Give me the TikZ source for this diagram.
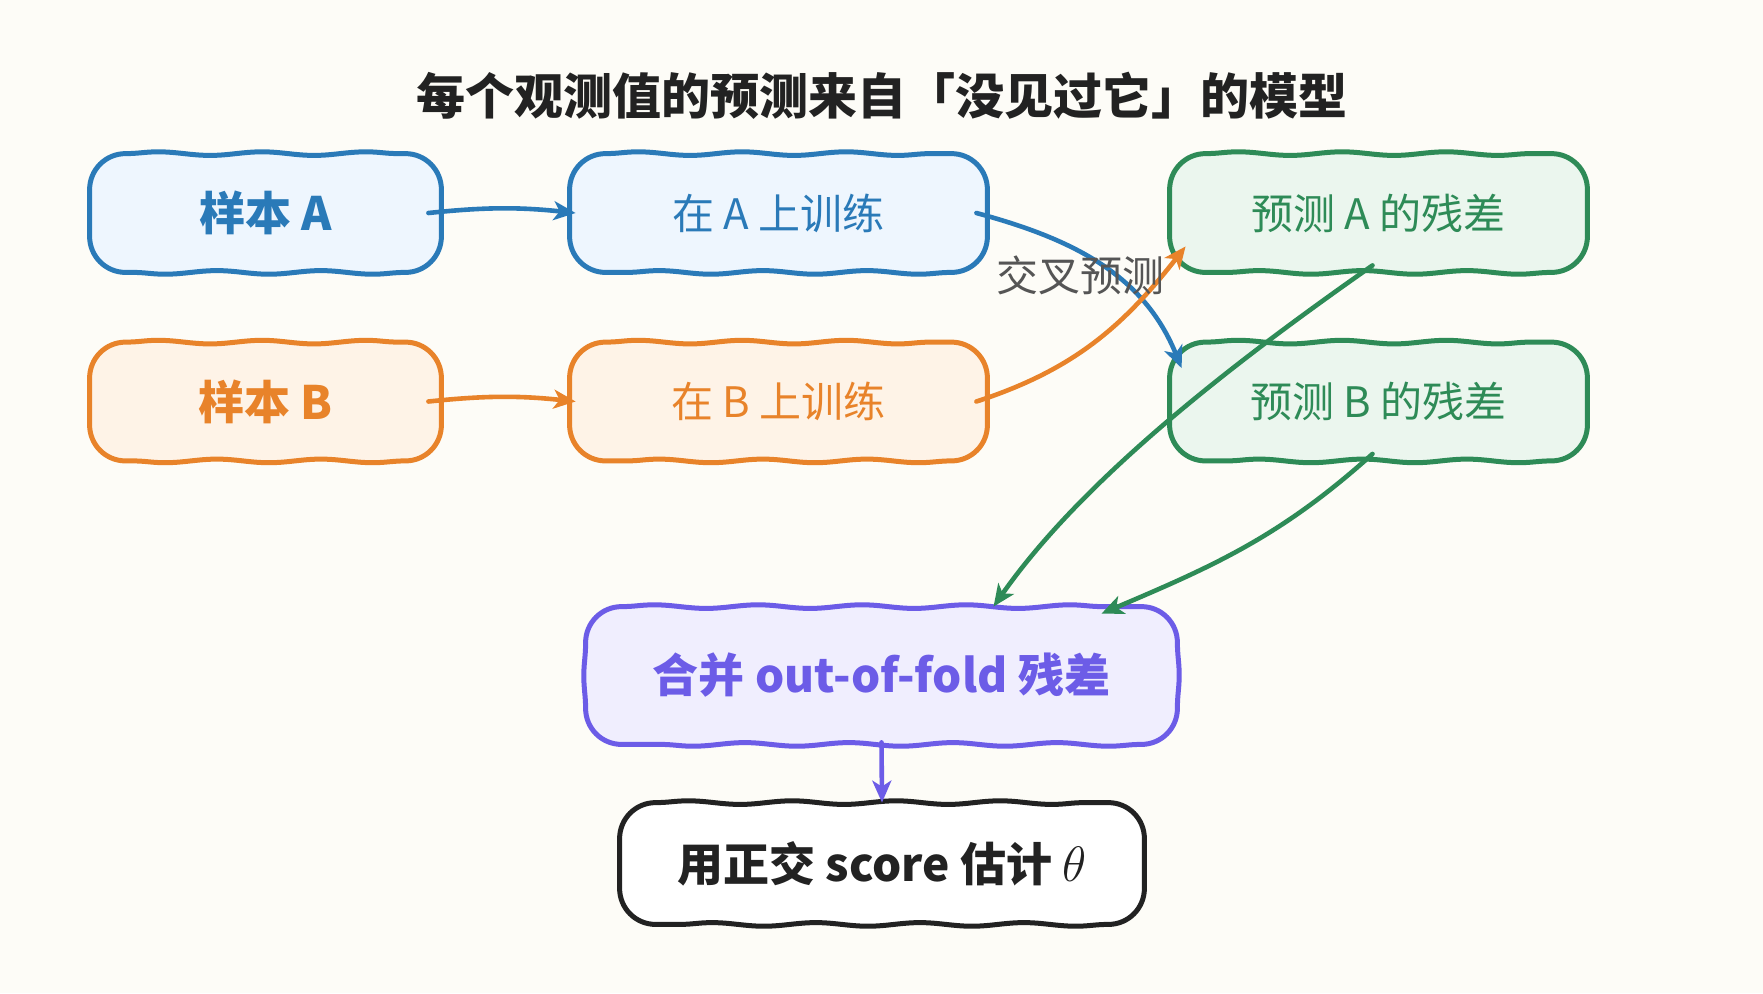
\documentclass[tikz,border=0pt]{standalone}
\usepackage{fontspec}
\setmainfont{Noto Sans CJK SC}
\usetikzlibrary{arrows.meta,decorations.pathmorphing}
\definecolor{bg}{HTML}{FDFCF7}
\definecolor{blueS}{HTML}{2A7AB8}
\definecolor{blueF}{HTML}{EEF6FE}
\definecolor{orangeS}{HTML}{E8832A}
\definecolor{orangeF}{HTML}{FEF3E7}
\definecolor{greenS}{HTML}{2E8B57}
\definecolor{greenF}{HTML}{EBF6EE}
\definecolor{purpS}{HTML}{6C5CE7}
\definecolor{purpF}{HTML}{F0EEFE}
\definecolor{darkS}{HTML}{222222}
\definecolor{lblgray}{HTML}{555555}
\newcommand\wobbox[2]{%
  \draw[#2, line width=2.5pt, line cap=round, line join=round,
        decoration={snake, amplitude=0.9pt, segment length=52pt}]
    ([xshift=18pt]#1.north west) decorate{([xshift=18pt]#1.north west) -- ([xshift=-18pt]#1.north east)}
    to[out=0,in=90] ([yshift=-18pt]#1.north east)
    decorate{([yshift=-18pt]#1.north east) -- ([yshift=18pt]#1.south east)}
    to[out=-90,in=0] ([xshift=-18pt]#1.south east)
    decorate{([xshift=-18pt]#1.south east) -- ([xshift=18pt]#1.south west)}
    to[out=180,in=-90] ([yshift=18pt]#1.south west)
    decorate{([yshift=18pt]#1.south west) -- ([yshift=-18pt]#1.north west)}
    to[out=90,in=180] ([xshift=18pt]#1.north west);}
\begin{document}
\begin{tikzpicture}[x=0.5pt,y=-0.5pt,
  box/.style={rounded corners=18pt, inner sep=0pt},
  smallbox/.style={box, minimum width=175.5pt, minimum height=59pt},
  midbox/.style={box, minimum width=208.5pt, minimum height=59pt},
  boldtxt/.style={font=\fontsize{23pt}{26pt}\selectfont\bfseries},
  regtxt/.style={font=\fontsize{21pt}{24pt}\selectfont},
  conn/.style={line width=2.3pt, line cap=round, -{Stealth[length=11pt,width=9.5pt,inset=3pt]}}
]
\fill[bg] (0,0) rectangle (1763,993);
\useasboundingbox (0,0) rectangle (1763,993);

\node[font=\fontsize{24.5pt}{28pt}\selectfont\bfseries, text=darkS] (title) at (882,96)
  {每个观测值的预测来自「没见过它」的模型};

\node[smallbox, boldtxt, fill=blueF, text=blueS] (sA) at (265.5,213) {样本 A};
\node[midbox, regtxt, fill=blueF, text=blueS] (tA) at (778.5,213) {在 A 上训练};
\node[midbox, regtxt, fill=greenF, text=greenS] (rA) at (1378.5,213) {预测 A 的残差};

\node[smallbox, boldtxt, fill=orangeF, text=orangeS] (sB) at (265.5,401.5) {样本 B};
\node[midbox, regtxt, fill=orangeF, text=orangeS] (tB) at (778.5,401.5) {在 B 上训练};
\node[midbox, regtxt, fill=greenF, text=greenS] (rB) at (1378.5,401.5) {预测 B 的残差};

\node[box, boldtxt, minimum width=295.5pt, minimum height=68.5pt, fill=purpF, text=purpS] (m) at (881.5,675.5) {合并 out-of-fold 残差};
\node[box, boldtxt, minimum width=262pt, minimum height=60.5pt, fill=white, text=darkS] (e) at (882,863.5) {用正交 score 估计 $\theta$};

\wobbox{sA}{blueS}
\wobbox{tA}{blueS}
\wobbox{rA}{greenS}
\wobbox{sB}{orangeS}
\wobbox{tB}{orangeS}
\wobbox{rB}{greenS}
\wobbox{m}{purpS}
\wobbox{e}{darkS}

% connectors
\draw[conn, blueS] ([xshift=-6.5pt]sA.east) to[bend left=6] ([xshift=3pt]tA.west);
\draw[conn, orangeS] ([xshift=-6.5pt]sB.east) to[bend left=6] ([xshift=3pt]tB.west);

\draw[conn, blueS] ([xshift=-5.5pt]tA.east) to[out=-15,in=112] ([shift={(6pt,-13pt)}]rB.north west);
\draw[conn, orangeS] ([xshift=-5.5pt]tB.east) to[out=18,in=-128] ([shift={(8pt,13pt)}]rA.south west);

\node[regtxt, text=lblgray] (lbl) at (1080,275) {交叉预测};

\draw[conn, greenS] ([shift={(-3pt,3.5pt)}]rA.south) to[out=-145,in=55,looseness=0.8] ([xshift=56pt]m.north);
\draw[conn, greenS] ([shift={(-3pt,3.5pt)}]rB.south) to[out=-138,in=23] ([shift={(110pt,-3.5pt)}]m.north);

\draw[conn, purpS] ([yshift=1pt]m.south) -- (e.north);
\end{tikzpicture}
\end{document}
